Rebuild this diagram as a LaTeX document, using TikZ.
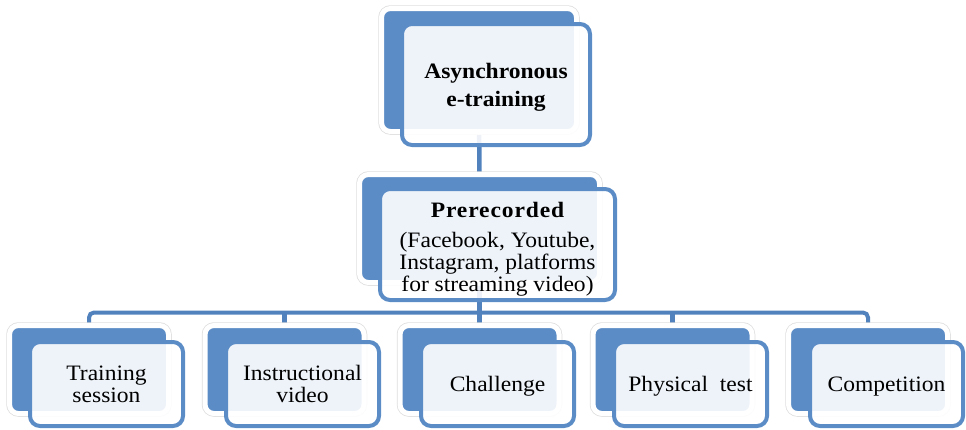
\documentclass[tikz,border=0pt]{standalone}
\usepackage{fontspec}
\setmainfont{Liberation Serif}[FakeStretch=1.07]
\usetikzlibrary{backgrounds}
\definecolor{boxblue}{HTML}{5B8CC6}
\definecolor{connblue}{HTML}{5282BE}
\definecolor{halo}{HTML}{DEDEDE}
\tikzset{
  backbox/.style={rectangle, rounded corners=9pt, fill=boxblue, draw=white, line width=5pt,
    inner sep=0pt, outer sep=0pt, preaction={draw=halo, line width=6.5pt}},
  frontbox/.style={rectangle, rounded corners=10pt, fill=white, fill opacity=0.9, text opacity=1,
    draw=boxblue, line width=4pt, align=center, inner sep=2pt, outer sep=0pt},
  conn/.style={draw=connblue, line width=4.5pt},
  txt/.style={font=\fontsize{22}{22}\selectfont},
  leaf/.style={frontbox, txt, minimum width=153pt, minimum height=84pt,
    execute at begin node={\rule{0pt}{19pt}}}
}
\begin{document}
\begin{tikzpicture}[x=1pt,y=-1pt]
\useasboundingbox (0,0) rectangle (966,429);
% back boxes
\node[backbox, minimum width=195pt, minimum height=123pt] (topB) at (479,70) {};
\node[backbox, minimum width=240pt, minimum height=108pt] (midB) at (479.5,228.5) {};
\node[backbox, minimum width=159pt, minimum height=88pt] (b1B) at (89,369.5) {};
\node[backbox, minimum width=159pt, minimum height=88pt] (b2B) at (284.5,369.5) {};
\node[backbox, minimum width=159pt, minimum height=88pt] (b3B) at (479.5,369.5) {};
\node[backbox, minimum width=159pt, minimum height=88pt] (b4B) at (672.5,369.5) {};
\node[backbox, minimum width=159pt, minimum height=88pt] (b5B) at (868,369.5) {};
% connectors
\begin{scope}[on background layer]
\coordinate (bus) at (479,312.5);
\draw[conn] (topB.center) -- (midB.center);
\draw[conn] (midB.center) -- (midB.center |- bus);
\draw[conn, line width=4pt, rounded corners=5pt] (b1B.center) |- (bus) -| (b5B.center);
\draw[conn] (b2B.center) -- (b2B.center |- bus);
\draw[conn] (b3B.center) -- (b3B.center |- bus);
\draw[conn] (b4B.center) -- (b4B.center |- bus);
\end{scope}
% front boxes
\node[frontbox, minimum width=188pt, minimum height=121pt, font=\fontsize{22}{28}\selectfont\bfseries] (topF) at (496,84.5) {\rule{0pt}{21.5pt}Asynchronous\\e-training};
\node[frontbox, minimum width=235pt, minimum height=111pt, txt] (midF) at (497.5,244.5)
  {\rule{0pt}{25pt}{\bfseries\addfontfeature{LetterSpace=4}Prerecorded}\\[8pt](Facebook, Youtube,\\Instagram, platforms\\for streaming video)};
\node[leaf] (b1F) at (106.5,384) {Training\\session};
\node[leaf] (b2F) at (302.5,384) {Instructional\\video};
\node[leaf] (b3F) at (497.5,384) {Challenge};
\node[leaf] (b4F) at (690.5,384) {Physical\ \ test};
\node[leaf] (b5F) at (886.5,384) {Competition};
\end{tikzpicture}
\end{document}
